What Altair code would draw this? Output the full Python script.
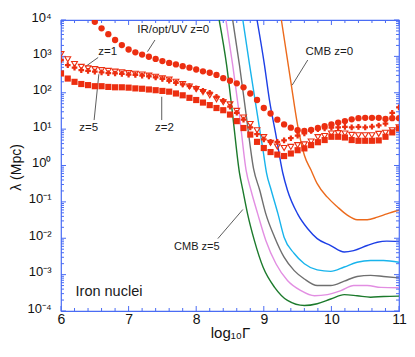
import json
import altair as alt
import pandas as pd

# ---------------- data (log10 of lambda in Mpc) ----------------
gamma = [round(6.0 + 0.1 * i, 1) for i in range(51)]

ir_z0_gamma = gamma[5:]
ir_z0 = [3.95, 3.77, 3.61, 3.45, 3.31, 3.19, 3.11, 3.05, 2.99, 2.93,
         2.87, 2.82, 2.78, 2.73, 2.69, 2.64, 2.59, 2.55, 2.49, 2.40,
         2.33, 2.26, 2.15, 1.98, 1.80, 1.58, 1.43, 1.26, 1.13, 1.04,
         0.97, 0.95, 0.98, 1.03, 1.08, 1.13, 1.18, 1.22, 1.27, 1.30,
         1.31, 1.31, 1.31, 1.28, 1.30, 1.30]

z1 = [3.06, 2.92, 2.79, 2.71, 2.67, 2.65, 2.62, 2.60, 2.58, 2.56,
      2.54, 2.52, 2.50, 2.47, 2.44, 2.40, 2.36, 2.30, 2.24, 2.17,
      2.10, 2.02, 1.93, 1.82, 1.74, 1.68, 1.50, 1.32, 1.14, 0.97,
      0.78, 0.62, 0.52, 0.48, 0.51, 0.56, 0.58, 0.66, 0.78, 0.81,
      0.88, 0.89, 0.88, 0.84, 0.83, 0.83, 0.83, 0.87, 0.90, 0.97,
      1.05]

z5 = [2.90, 2.76, 2.69, 2.62, 2.60, 2.58, 2.56, 2.54, 2.53, 2.52,
      2.50, 2.49, 2.47, 2.45, 2.42, 2.38, 2.33, 2.27, 2.23, 2.18,
      2.12, 2.05, 2.00, 1.89, 1.78, 1.62, 1.45, 1.26, 1.05, 0.86,
      0.72, 0.65, 0.65, 0.69, 0.75, 0.82, 0.88, 0.95, 1.00, 1.02,
      1.04, 1.05, 1.06, 1.05, 1.06, 1.05, 1.07, 1.10, 1.15, 1.45,
      1.60]

z2 = [2.53, 2.39, 2.30, 2.24, 2.21, 2.18, 2.18, 2.16, 2.15, 2.15,
      2.14, 2.12, 2.11, 2.09, 2.07, 2.05, 2.03, 1.98, 1.93, 1.86,
      1.80, 1.73, 1.66, 1.58, 1.52, 1.40, 1.22, 1.03, 0.85, 0.65,
      0.48, 0.37, 0.30, 0.26, 0.33, 0.42, 0.47, 0.56, 0.64, 0.70,
      0.79, 0.79, 0.77, 0.70, 0.68, 0.68, 0.68, 0.69, 0.79, 0.91,
      1.02]

cmb_z0_x = [9.26, 9.40, 9.50, 9.60, 9.70, 9.79, 9.94, 10.09, 10.24, 10.38, 10.53, 10.68, 10.82, 11.0]
cmb_z0_y = [4.0, 2.30, 1.11, 0.28, -0.13, -0.50, -0.87, -1.14, -1.37, -1.49, -1.49, -1.42, -1.33, -1.23]

cmb_z1_x = [8.90, 9.01, 9.08, 9.18, 9.28, 9.35, 9.50, 9.65, 9.79, 9.99, 10.19, 10.33, 10.53, 10.68, 10.82, 11.0]
cmb_z1_y = [4.0, 2.76, 1.84, 0.83, -0.20, -0.68, -1.33, -1.74, -2.01, -2.20, -2.38, -2.34, -2.20, -2.11, -2.08, -2.09]

cmb_z2_x = [8.69, 8.79, 8.89, 8.99, 9.04, 9.11, 9.21, 9.30, 9.45, 9.60, 9.79, 9.99, 10.19, 10.38, 10.58, 10.77, 11.0]
cmb_z2_y = [4.0, 2.76, 1.57, 0.40, -0.20, -0.68, -1.33, -1.97, -2.42, -2.70, -2.87, -2.91, -2.79, -2.66, -2.61, -2.61, -2.66]

cmb_z3_x = [8.54, 8.64, 8.74, 8.85, 8.94, 9.03, 9.16, 9.30, 9.45, 9.60, 9.79, 9.99, 10.19, 10.38, 10.58, 10.77, 11.0]
cmb_z3_y = [4.0, 2.76, 1.38, -0.10, -0.68, -1.33, -1.97, -2.52, -2.89, -3.12, -3.30, -3.30, -3.18, -3.05, -3.02, -3.05, -3.09]

cmb_z4_x = [8.44, 8.54, 8.64, 8.74, 8.81, 8.91, 9.03, 9.18, 9.35, 9.55, 9.75, 9.94, 10.14, 10.33, 10.53, 10.73, 11.0]
cmb_z4_y = [4.0, 2.76, 1.38, -0.15, -0.68, -1.33, -2.06, -2.70, -3.16, -3.44, -3.58, -3.55, -3.44, -3.30, -3.30, -3.35, -3.36]

cmb_z5_x = [8.34, 8.45, 8.54, 8.64, 8.69, 8.76, 8.86, 8.99, 9.16, 9.35, 9.60, 9.79, 9.99, 10.19, 10.38, 10.58, 10.77, 11.0]
cmb_z5_y = [4.0, 2.76, 1.38, -0.20, -0.68, -1.33, -2.06, -2.80, -3.35, -3.71, -3.85, -3.80, -3.67, -3.55, -3.58, -3.62, -3.60, -3.59]

cmb_names = ["CMB z=0", "CMB z=1", "CMB z=2", "CMB z=3", "CMB z=4", "CMB z=5"]
cmb_colors = ["#ec6a1c", "#1d3fe6", "#18b4ec", "#6f6f6f", "#e28ee2", "#1c7a2c"]

# annotations
label_text = ["IR/opt/UV z=0", "z=1", "z=5", "z=2", "CMB z=0", "CMB z=5", "Iron nuclei"]
label_x = [7.66, 6.69, 6.41, 7.53, 9.97, 8.01, 6.71]
label_y = [3.72, 3.12, 1.02, 1.02, 3.12, -2.25, -3.47]
label_size = [11.5, 11.5, 11.5, 11.5, 11.5, 11, 14.5]

pointer_x = [7.39, 6.55, 6.49, 7.49, 9.65, 8.32]
pointer_y = [3.45, 2.97, 1.25, 1.25, 2.90, -2.01]
pointer_x2 = [7.28, 6.37, 6.56, 7.49, 9.42, 8.69]
pointer_y2 = [3.13, 2.73, 2.51, 1.89, 2.21, -1.21]

# axes
x_major = [6, 7, 8, 9, 10, 11]
x_minor = [6.2, 6.4, 6.6, 6.8, 7.2, 7.4, 7.6, 7.8, 8.2, 8.4, 8.6, 8.8,
           9.2, 9.4, 9.6, 9.8, 10.2, 10.4, 10.6, 10.8]
y_exponents = [-4, -3, -2, -1, 0, 1, 2, 3, 4]
y_tick_labels = ["10⁻⁴", "10⁻³", "10⁻²", "10⁻¹", "10⁰", "10¹", "10²", "10³", "10⁴"]
y_minor_mult = [2, 3, 4, 5, 6, 7, 8, 9]

# ---------------- styling ----------------
W, H = 338, 291
RED = "#ec2e10"
FRAME = "#4a6cf4"
FONT = "Liberation Sans"

# ---------------- tables ----------------
lines = []
for name, xs, ys in zip(cmb_names,
                        [cmb_z0_x, cmb_z1_x, cmb_z2_x, cmb_z3_x, cmb_z4_x, cmb_z5_x],
                        [cmb_z0_y, cmb_z1_y, cmb_z2_y, cmb_z3_y, cmb_z4_y, cmb_z5_y]):
    for xv, yv in zip(xs, ys):
        lines.append({"x": xv, "y": 10 ** yv, "series": name})
lines_df = pd.DataFrame(lines)

def pts(xs, ys):
    return pd.DataFrame({"x": xs, "y": [10 ** v for v in ys]})

ir_df = pts(ir_z0_gamma, ir_z0)
z1_df = pts(gamma, z1)
z5_df = pts(gamma, z5)
z2_df = pts(gamma, z2)

lab_df = pd.DataFrame({"x": label_x, "y": [10 ** v for v in label_y],
                       "text": label_text, "fs": label_size})
ptr_df = pd.DataFrame({"x": pointer_x, "y": [10 ** v for v in pointer_y],
                       "x2": pointer_x2, "y2": [10 ** v for v in pointer_y2]})

xmaj_df = pd.DataFrame({"x": x_major})
xmin_df = pd.DataFrame({"x": x_minor})
ymaj_df = pd.DataFrame({"y": [10.0 ** e for e in y_exponents]})
ymin_df = pd.DataFrame({"y": [m * 10.0 ** e for e in y_exponents[:-1] for m in y_minor_mult]})

xscale = alt.Scale(domain=[6, 11], nice=False, zero=False)
yscale = alt.Scale(type="log", domain=[1e-4, 1e4], nice=False)

label_expr = json.dumps(y_tick_labels, ensure_ascii=False) + "[round(log(datum.value)/LN10)+4]"

x_axis = alt.Axis(values=x_major, format="d", title="log₁₀Γ", grid=False, ticks=False,
                  tickSize=0, domain=False, labelFontSize=14, labelPadding=1,
                  labelColor="#111", titleFontSize=15, titleFontWeight="normal",
                  titleColor="#111", titleY=26, titleX=W / 2, titleBaseline="alphabetic",
                  labelFlush=False)
y_axis = alt.Axis(values=[10.0 ** e for e in y_exponents], labelExpr=label_expr,
                  title="λ (Mpc)", grid=False, ticks=False, tickSize=0, domain=False,
                  labelFontSize=13, labelPadding=10, labelColor="#111",
                  labelBaseline="alphabetic", labelOffset=1, labelFlush=False,
                  titleFontSize=14, titleFontWeight="normal", titleColor="#111",
                  titleX=-45, titleY=147, titleAngle=-90, titleAlign="center",
                  titleBaseline="middle")

X = lambda: alt.X("x:Q", scale=xscale, axis=x_axis, title="log₁₀Γ")
Y = lambda: alt.Y("y:Q", scale=yscale, axis=y_axis, title="λ (Mpc)")

cmb_layer = alt.Chart(lines_df).mark_line(interpolate="monotone", strokeWidth=1.4, clip=True).encode(
    x=X(), y=Y(),
    color=alt.Color("series:N", scale=alt.Scale(domain=cmb_names, range=cmb_colors), legend=None),
    detail="series:N",
)

ir_layer = alt.Chart(ir_df).mark_point(shape="circle", filled=True, size=40, color=RED, opacity=1, clip=True).encode(x=X(), y=Y())
z1_layer = alt.Chart(z1_df).mark_point(shape="triangle-down", filled=False, size=34, color=RED,
                                       strokeWidth=1.1, opacity=1, clip=True).encode(x=X(), y=Y())
z5_layer = alt.Chart(z5_df).mark_point(shape="cross", filled=True, size=32, color=RED, opacity=1, clip=True).encode(x=X(), y=Y())
z2_layer = alt.Chart(z2_df).mark_point(shape="square", filled=True, size=38, color=RED, opacity=1, clip=True).encode(x=X(), y=Y())

ptr_layer = alt.Chart(ptr_df).mark_rule(color="#333", strokeWidth=0.8).encode(
    x=X(), y=Y(), x2="x2:Q", y2="y2:Q")
lab_layer = alt.Chart(lab_df).mark_text(font=FONT, color="#1a1a1a", align="center", baseline="middle").encode(
    x=X(), y=Y(), text="text:N", size=alt.Size("fs:Q", scale=None, legend=None))

TK = 5
TKm = 3
ticks = [
    alt.Chart(xmaj_df).mark_rule(color=FRAME, strokeWidth=1).encode(x=X(), y=alt.value(H), y2=alt.value(H - TK)),
    alt.Chart(xmaj_df).mark_rule(color=FRAME, strokeWidth=1).encode(x=X(), y=alt.value(0), y2=alt.value(TK)),
    alt.Chart(xmin_df).mark_rule(color=FRAME, strokeWidth=1).encode(x=X(), y=alt.value(H), y2=alt.value(H - TKm)),
    alt.Chart(xmin_df).mark_rule(color=FRAME, strokeWidth=1).encode(x=X(), y=alt.value(0), y2=alt.value(TKm)),
    alt.Chart(ymaj_df).mark_rule(color=FRAME, strokeWidth=1).encode(y=Y(), x=alt.value(0), x2=alt.value(TK)),
    alt.Chart(ymaj_df).mark_rule(color=FRAME, strokeWidth=1).encode(y=Y(), x=alt.value(W), x2=alt.value(W - TK)),
    alt.Chart(ymin_df).mark_rule(color=FRAME, strokeWidth=1).encode(y=Y(), x=alt.value(0), x2=alt.value(TKm)),
    alt.Chart(ymin_df).mark_rule(color=FRAME, strokeWidth=1).encode(y=Y(), x=alt.value(W), x2=alt.value(W - TKm)),
]

chart = alt.layer(
    cmb_layer, *ticks, ptr_layer, lab_layer, ir_layer, z1_layer, z5_layer, z2_layer
).properties(
    width=W, height=H,
    autosize=alt.AutoSizeParams(type="none"),
    padding={"left": 53, "top": 12, "right": 8, "bottom": 36},
    background="white",
).configure_view(
    stroke=FRAME, strokeWidth=1.2,
).configure_axis(
    labelFont=FONT, titleFont=FONT,
).configure_text(font=FONT)

chart.save("out.html", embed_options={"renderer": "svg", "actions": False})
